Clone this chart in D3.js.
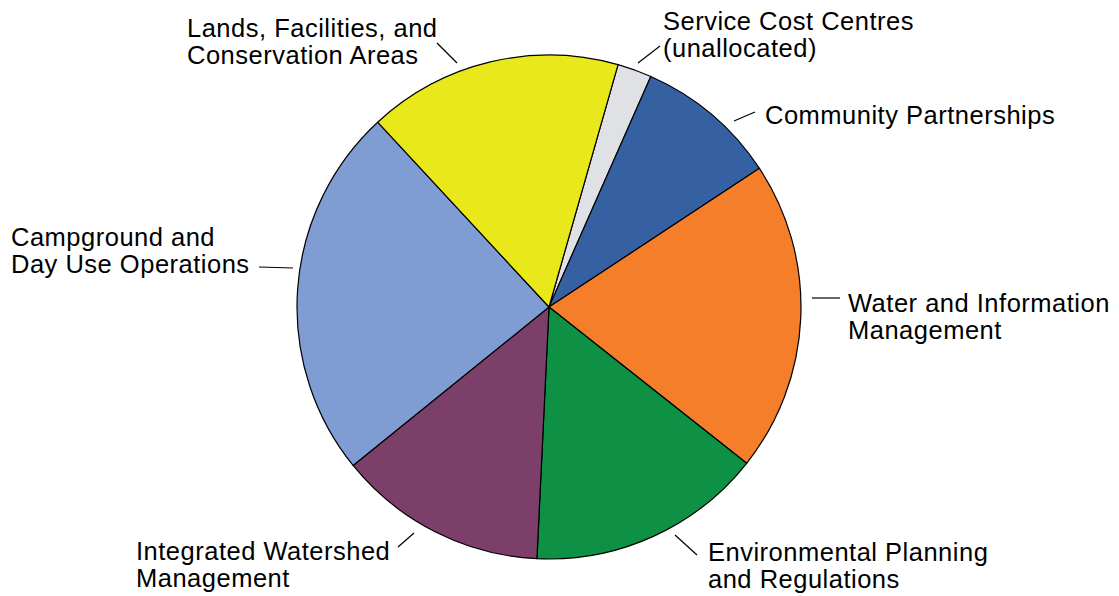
<!DOCTYPE html>
<html>
<head>
<meta charset="utf-8">
<script src="https://cdn.jsdelivr.net/npm/d3@7"></script>
<style>
  body { margin: 0; background: #fff; }
  text { font-family: "Liberation Sans", Arial, sans-serif; font-size: 25.5px; letter-spacing: 0.5px; fill: #000; }
</style>
</head>
<body>
<svg id="canvas" width="1119" height="596"></svg>
<script>
// slices, clockwise from the small grey one
const categories = [
  'Service Cost Centres (unallocated)',
  'Community Partnerships',
  'Water and Information Management',
  'Environmental Planning and Regulations',
  'Integrated Watershed Management',
  'Campground and Day Use Operations',
  'Lands, Facilities, and Conservation Areas'
];
const shares = [2.2, 9.1, 19.9, 15.1, 13.4, 23.9, 16.3];
const labelLines = [
  ['Service Cost Centres', '(unallocated)'],
  ['Community Partnerships'],
  ['Water and Information', 'Management'],
  ['Environmental Planning', 'and Regulations'],
  ['Integrated Watershed', 'Management'],
  ['Campground and', 'Day Use Operations'],
  ['Lands, Facilities, and', 'Conservation Areas']
];
const colors = ['#e0e1e5', '#3561a3', '#f47e2a', '#0f9145', '#7b3f6a', '#7f9cd3', '#e8e81b'];

// label placement, relative to pie centre: leader [x1,y1,x2,y2], text [x,y]
const placement = [
  { leader: [89, -244, 111, -261], text: [114, -277] },
  { leader: [185, -186, 206, -195], text: [216, -183] },
  { leader: [263, -9, 291, -9], text: [299, 5] },
  { leader: [126, 228, 148, 248], text: [159, 254] },
  { leader: [-151, 240, -135, 226], text: [-413, 253] },
  { leader: [-290, -40, -256, -39], text: [-538, -61] },
  { leader: [-112, -264, -92, -244], text: [-362, -270] }
];

const cx = 549, cy = 307, radius = 252, lineH = 27;
const start = 15.9 * Math.PI / 180;

const svg = d3.select('#canvas');
const g = svg.append('g').attr('transform', `translate(${cx},${cy})`);

const pie = d3.pie().sort(null).startAngle(start).endAngle(start + 2 * Math.PI);
const arc = d3.arc().innerRadius(0).outerRadius(radius);

g.selectAll('path.slice')
  .data(pie(shares))
  .join('path')
  .attr('class', 'slice')
  .attr('d', arc)
  .attr('fill', (d, i) => colors[i])
  .attr('stroke', '#000')
  .attr('stroke-width', 1.2)
  .attr('stroke-linejoin', 'round');

// leaders
g.selectAll('line.leader')
  .data(placement)
  .join('line')
  .attr('class', 'leader')
  .attr('x1', d => d.leader[0])
  .attr('y1', d => d.leader[1])
  .attr('x2', d => d.leader[2])
  .attr('y2', d => d.leader[3])
  .attr('stroke', '#000')
  .attr('stroke-width', 1.2);

// labels
const labels = g.selectAll('text.label')
  .data(categories)
  .join('text')
  .attr('class', 'label')
  .attr('x', (d, i) => placement[i].text[0])
  .attr('y', (d, i) => placement[i].text[1]);

labels.selectAll('tspan')
  .data((d, i) => labelLines[i].map(t => ({ t, x: placement[i].text[0] })))
  .join('tspan')
  .attr('x', d => d.x)
  .attr('dy', (d, j) => j === 0 ? 0 : lineH)
  .text(d => d.t);
</script>
</body>
</html>
